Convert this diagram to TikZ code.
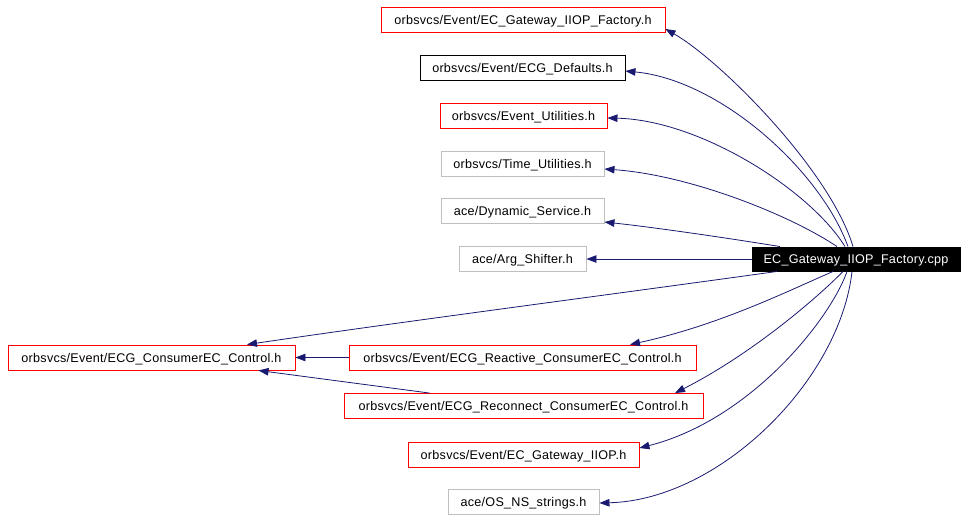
\documentclass[tikz,border=0pt]{standalone}
\usepackage{fontspec}
\setmainfont{Liberation Sans}
\newfontfamily\dfont[LetterSpace=2]{Liberation Sans}
\usetikzlibrary{arrows.meta}
\definecolor{edgeblue}{RGB}{25,25,112}
\definecolor{greyb}{RGB}{191,191,191}
\begin{document}
\begin{tikzpicture}[x=1pt,y=-1pt,
  box/.style={draw,line width=0.9pt,inner sep=0pt,minimum height=25pt,text height=10pt,text depth=1pt,font=\dfont\fontsize{12.6}{14}\selectfont,anchor=center},
  redbox/.style={box,draw=red},
  blackbox/.style={box,draw=black},
  greybox/.style={box,draw=greyb},
  mainbox/.style={box,draw=black,fill=black,text=white,minimum height=24pt},
  edge/.style={draw=edgeblue,line width=0.8pt,-{Triangle[length=10pt,width=7.5pt]}}]
\useasboundingbox (0,0) rectangle (968,520);
\node[redbox,minimum width=284pt] (f1) at (523,19.5) {orbsvcs/Event/EC\_Gateway\_IIOP\_Factory.h};
\node[blackbox,minimum width=205pt] (def) at (522.5,67.5) {orbsvcs/Event/ECG\_Defaults.h};
\node[redbox,minimum width=167pt] (eu) at (523.5,115.5) {orbsvcs/Event\_Utilities.h};
\node[greybox,minimum width=163pt] (tu) at (522.5,163.5) {orbsvcs/Time\_Utilities.h};
\node[greybox,minimum width=163pt] (ds) at (522.5,210.5) {ace/Dynamic\_Service.h};
\node[greybox,minimum width=127pt] (as) at (522.5,259) {ace/Arg\_Shifter.h};
\node[mainbox,minimum width=208pt] (cpp) at (856,259) {EC\_Gateway\_IIOP\_Factory.cpp};
\node[redbox,minimum width=287pt] (cec) at (151.5,357.5) {orbsvcs/Event/ECG\_ConsumerEC\_Control.h};
\node[redbox,minimum width=347pt] (rea) at (522.5,357.5) {orbsvcs/Event/ECG\_Reactive\_ConsumerEC\_Control.h};
\node[redbox,minimum width=359pt] (rec) at (523.5,406) {orbsvcs/Event/ECG\_Reconnect\_ConsumerEC\_Control.h};
\node[redbox,minimum width=231pt] (gw) at (523.5,454.5) {orbsvcs/Event/EC\_Gateway\_IIOP.h};
\node[greybox,minimum width=151pt] (os) at (523.5,502) {ace/OS\_NS\_strings.h};

\draw[edge] ([xshift=-3pt]cpp.north) .. controls (830,170) and (720,60) .. ([yshift=-9.5pt]f1.east);
\draw[edge] ([xshift=-8pt]cpp.north) .. controls (820,170) and (720,80) .. ([yshift=-3.5pt]def.east);
\draw[edge] ([xshift=-11pt]cpp.north) .. controls (810,190) and (700,120) .. ([yshift=-2.5pt]eu.east);
\draw[edge] ([xshift=-19pt]cpp.north) .. controls (790,215) and (690,175) .. ([yshift=-5.5pt]tu.east);
\draw[edge] ([xshift=-76pt]cpp.north) .. controls (740,240) and (660,228) .. ([yshift=-11.5pt]ds.east);
\draw[edge] (cpp.west) -- (as.east);
\draw[edge] ([xshift=-79pt]cpp.south) .. controls (600,296) and (400,322) .. ([xshift=95.5pt]cec.north);
\draw[edge] ([xshift=-23pt]cpp.south) .. controls (790,290) and (720,325) .. ([xshift=107.5pt]rea.north);
\draw[edge] ([xshift=-13pt]cpp.south) .. controls (815,300) and (750,355) .. ([xshift=151.5pt]rec.north);
\draw[edge] ([xshift=-9pt]cpp.south) .. controls (830,320) and (750,420) .. ([yshift=6.5pt]gw.east);
\draw[edge] ([xshift=-4pt]cpp.south) .. controls (840,380) and (720,500) .. ([yshift=-1pt]os.east);
\draw[edge] (rea.west) -- (cec.east);
\draw[edge] ([xshift=-94pt]rec.north) -- ([xshift=107pt]cec.south);
\end{tikzpicture}
\end{document}
